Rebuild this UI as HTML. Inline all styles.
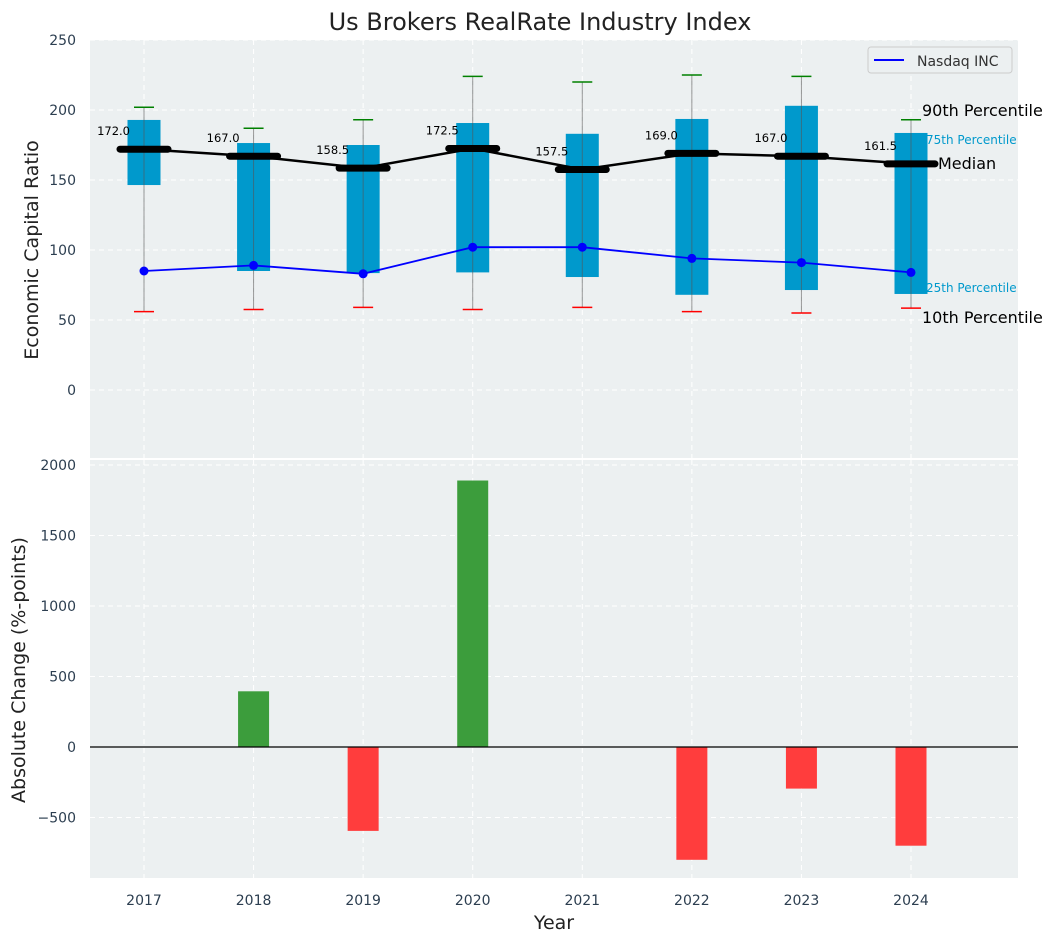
<!DOCTYPE html>
<html><head><meta charset="utf-8"><style>
body{margin:0;background:#fff;font-family:"Liberation Sans","DejaVu Sans",sans-serif}
svg text{font-family:"DejaVu Sans","Liberation Sans",sans-serif}
</style></head><body>
<svg id="chart" width="1057" height="942" xmlns="http://www.w3.org/2000/svg">
<text x="540" y="30" font-size="24" text-anchor="middle" fill="#222">Us Brokers RealRate Industry Index</text>
<rect x="90" y="40" width="928" height="418" fill="#ECF0F1"/>
<rect x="90" y="460" width="928" height="418" fill="#ECF0F1"/>
<g id="gtop"></g><g id="gbot"></g>
<text x="38" y="250" font-size="19" fill="#222" text-anchor="middle" transform="rotate(-90 38 250)">Economic Capital Ratio</text>
<text x="25" y="670" font-size="19" fill="#222" text-anchor="middle" transform="rotate(-90 25 670)">Absolute Change (%-points)</text>
<text x="554" y="929" font-size="19" fill="#222" text-anchor="middle">Year</text>
<g>
<rect x="868" y="47" width="144" height="26" rx="3" fill="#ECF0F1" stroke="#ccc"/>
<line x1="874" y1="60" x2="904" y2="60" stroke="blue" stroke-width="2"/>
<text x="917" y="66" font-size="14" fill="#333">Nasdaq INC</text>
</g>
<text x="922" y="116" font-size="16" fill="#000">90th Percentile</text>
<text x="926" y="144" font-size="12" fill="#0099CC">75th Percentile</text>
<text x="938" y="169" font-size="16" fill="#000">Median</text>
<text x="926" y="292" font-size="12" fill="#0099CC">25th Percentile</text>
<text x="922" y="323" font-size="16" fill="#000">10th Percentile</text>
</svg>
<script>
const years=[2017,2018,2019,2020,2021,2022,2023,2024];
const p90=[202,187,193,224,220,225,224,193];
const p75=[192.9,176.4,175,190.7,183,193.6,203,183.6];
const medians=[172.0,167.0,158.5,172.5,157.5,169.0,167.0,161.5];
const p25=[146.4,85,83.5,84,80.7,68,71.4,68.6];
const p10=[56,57.5,59,57.5,59,56,55,58.5];
const nasdaq=[85,89,83,102,102,94,91,84];
const changes=[0,395,-595,1890,0,-800,-295,-700];
const topTicks=[0,50,100,150,200,250];
const botTicks=[-500,0,500,1000,1500,2000];
const NS="http://www.w3.org/2000/svg";
const X=i=>144+(911-144)/7*i;
const Yt=v=>390-v*1.4;
const Yb=v=>747-v*(282/2000);
function mk(p,t,a){const e=document.createElementNS(NS,t);for(const k in a)e.setAttribute(k,a[k]);p.appendChild(e);return e;}
const gTop=document.getElementById('gtop'),gBot=document.getElementById('gbot');
topTicks.forEach(v=>{const y=Yt(v);
 const l=mk(gTop,'line',{x1:90,x2:1018,y1:y,y2:y,stroke:'#fff','stroke-dasharray':'5,4'});
 
 
 const t=mk(gTop,'text',{x:76,y:y+5,'font-size':14,fill:'#2c3e50','text-anchor':'end'});t.textContent=v;
 
 });
botTicks.forEach(v=>{const y=Yb(v);
 const l=mk(gBot,'line',{x1:90,x2:1018,y1:y,y2:y,stroke:'#fff','stroke-dasharray':'5,4'});
 
 
 const t=mk(gBot,'text',{x:76,y:y+5,'font-size':14,fill:'#2c3e50','text-anchor':'end'});t.textContent=v<0?'\u2212'+(-v):v;
 
 });
years.forEach((yr,i)=>{const x=X(i);
 [[40,458],[460,878]].forEach(r=>{const l=mk(gTop,'line',{x1:x,x2:x,y1:r[0],y2:r[1],stroke:'#fff','stroke-dasharray':'5,4'});
 
 });
 const t=mk(gBot,'text',{x:x,y:905,'font-size':14,fill:'#2c3e50','text-anchor':'middle'});t.textContent=yr;
 
 });
years.forEach((yr,i)=>{const x=X(i);
 const b=mk(gTop,'rect',{x:x-16.5,y:Yt(p75[i]),width:33,height:Yt(p25[i])-Yt(p75[i]),fill:'#0099CC'});
 
 
 const w=mk(gTop,'line',{x1:x,x2:x,y1:Yt(p10[i]),y2:Yt(p90[i]),stroke:'#555','stroke-opacity':0.6,'stroke-width':1});
 
 
 const c1=mk(gTop,'line',{x1:x-10,x2:x+10,y1:Yt(p90[i]),y2:Yt(p90[i]),stroke:'green','stroke-width':1.5});
 
 
 const c2=mk(gTop,'line',{x1:x-10,x2:x+10,y1:Yt(p10[i]),y2:Yt(p10[i]),stroke:'red','stroke-width':1.5});
 
 
});
const ml=mk(gTop,'polyline',{points:medians.map((v,i)=>X(i)+','+Yt(v)).join(' '),fill:'none',stroke:'#000','stroke-width':2.5});


medians.forEach((v,i)=>{const x=X(i);
 const m=mk(gTop,'line',{x1:x-24,x2:x+24,y1:Yt(v),y2:Yt(v),stroke:'#000','stroke-width':7,'stroke-linecap':'round'});
 
 
 const t=mk(gTop,'text',{x:x-14,y:Yt(v)-14,'font-size':11.5,fill:'#000','text-anchor':'end'});t.textContent=v.toFixed(1);
 
 });
const nl=mk(gTop,'polyline',{points:nasdaq.map((v,i)=>X(i)+','+Yt(v)).join(' '),fill:'none',stroke:'blue','stroke-width':1.8});


nasdaq.forEach((v,i)=>{const d=mk(gTop,'circle',{cx:X(i),cy:Yt(v),r:4.5,fill:'blue'});
 
 });
changes.forEach((v,i)=>{const x=X(i);const y0=Yb(0),y1=Yb(v);
 const r=mk(gBot,'rect',{x:x-15.5,y:Math.min(y0,y1),width:31,height:Math.abs(y1-y0),fill:v>=0?'#3C9D3C':'#FF3D3D'});
 
 });
const z=mk(gBot,'line',{x1:90,x2:1018,y1:Yb(0),y2:Yb(0),stroke:'#000','stroke-width':1.2});


</script>
</body></html>
